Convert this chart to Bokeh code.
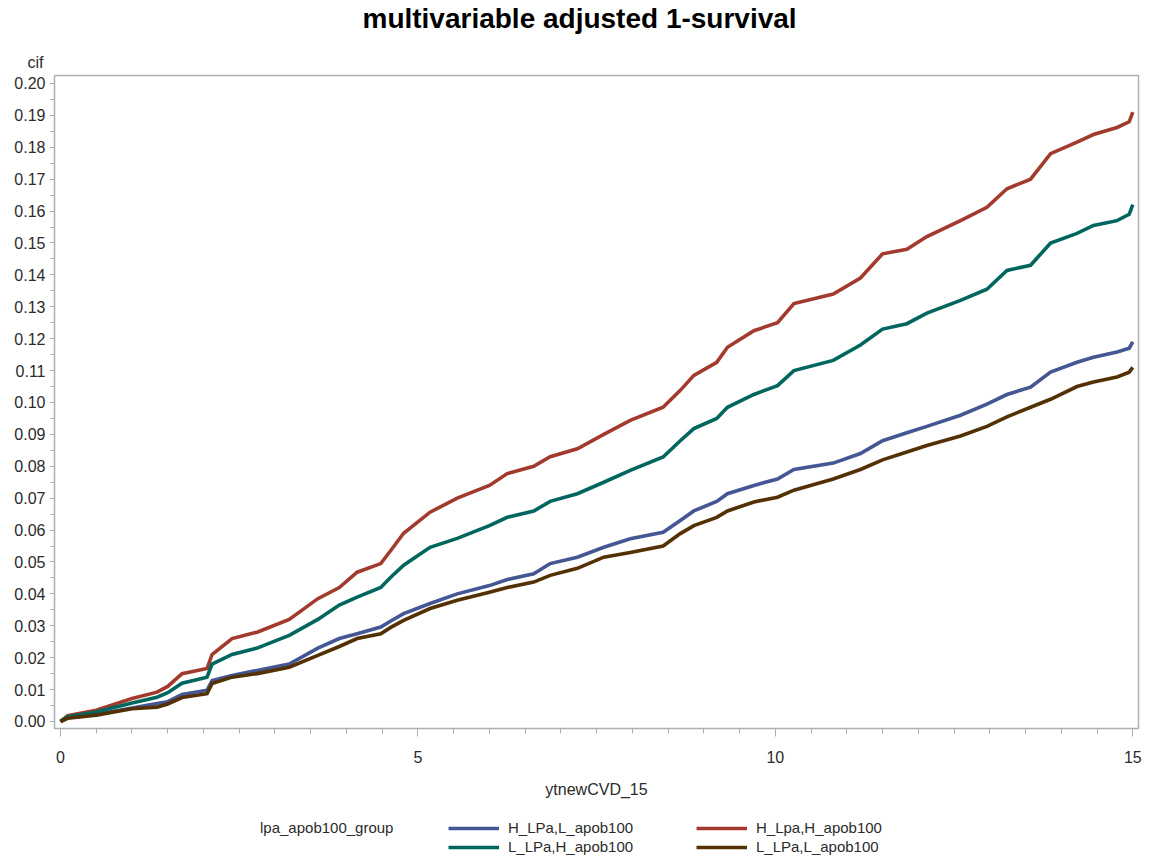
from bokeh.plotting import figure
from bokeh.layouts import column
from bokeh.models import FixedTicker, Legend, LegendItem, Title, Range1d, ColumnDataSource, CustomJSTickFormatter, Label
from bokeh.embed import file_html
from bokeh.resources import INLINE

# ---- data ----
time = [0.0, 0.1, 0.5, 1.0, 1.35, 1.5, 1.7, 2.05, 2.12, 2.4, 2.75, 3.2, 3.6, 3.9,
        4.15, 4.48, 4.62, 4.8, 5.17, 5.55, 6.0, 6.25, 6.62, 6.85, 7.23, 7.6, 7.97,
        8.43, 8.67, 8.86, 9.18, 9.33, 9.7, 10.03, 10.26, 10.81, 11.19, 11.5, 11.84,
        12.12, 12.59, 12.96, 13.24, 13.57, 13.85, 14.22, 14.45, 14.78, 14.95, 15.0]

h_lpa_h_apob = [0, 0.0018, 0.0035, 0.0072, 0.0092, 0.0110, 0.0150, 0.0166, 0.0210, 0.0260,
                0.0280, 0.0320, 0.0385, 0.0420, 0.0468, 0.0495, 0.0536, 0.0590, 0.0656, 0.0700,
                0.0740, 0.0777, 0.0800, 0.0830, 0.0855, 0.0900, 0.0944, 0.0985, 0.1038, 0.1085,
                0.1126, 0.1173, 0.1225, 0.1250, 0.1310, 0.1340, 0.1390, 0.1466, 0.1480, 0.1520,
                0.1570, 0.1612, 0.1670, 0.1700, 0.1780, 0.1816, 0.1840, 0.1862, 0.1880, 0.1910]

l_lpa_h_apob = [0, 0.0015, 0.0030, 0.0058, 0.0076, 0.0090, 0.0120, 0.0139, 0.0180, 0.0210,
                0.0230, 0.0270, 0.0320, 0.0365, 0.0390, 0.0420, 0.0452, 0.0490, 0.0546, 0.0574,
                0.0614, 0.0640, 0.0660, 0.0690, 0.0714, 0.0750, 0.0787, 0.0829, 0.0880, 0.0918,
                0.0950, 0.0985, 0.1025, 0.1053, 0.1100, 0.1132, 0.1180, 0.1230, 0.1247, 0.1280,
                0.1320, 0.1355, 0.1414, 0.1430, 0.1500, 0.1530, 0.1555, 0.1570, 0.1590, 0.1620]

h_lpa_l_apob = [0, 0.0012, 0.0022, 0.0042, 0.0056, 0.0062, 0.0085, 0.0098, 0.0128, 0.0144,
                0.0160, 0.0180, 0.0230, 0.0260, 0.0275, 0.0296, 0.0315, 0.0338, 0.0370, 0.0400,
                0.0426, 0.0445, 0.0463, 0.0495, 0.0515, 0.0546, 0.0573, 0.0593, 0.0630, 0.0660,
                0.0690, 0.0714, 0.0740, 0.0760, 0.0790, 0.0810, 0.0840, 0.0880, 0.0905, 0.0925,
                0.0960, 0.0995, 0.1025, 0.1048, 0.1095, 0.1126, 0.1142, 0.1158, 0.1170, 0.1190]

l_lpa_l_apob = [0, 0.0010, 0.0020, 0.0040, 0.0045, 0.0055, 0.0075, 0.0087, 0.0119, 0.0139,
                0.0150, 0.0170, 0.0207, 0.0235, 0.0260, 0.0275, 0.0295, 0.0317, 0.0354, 0.0380,
                0.0405, 0.0420, 0.0437, 0.0458, 0.0480, 0.0515, 0.0530, 0.0550, 0.0589, 0.0614,
                0.0640, 0.0660, 0.0688, 0.0703, 0.0725, 0.0760, 0.0790, 0.0820, 0.0845, 0.0865,
                0.0895, 0.0925, 0.0955, 0.0985, 0.1010, 0.1050, 0.1064, 0.1080, 0.1095, 0.1110]

series_names = ["H_LPa,L_apob100", "H_Lpa,H_apob100", "L_LPa,H_apob100", "L_LPa,L_apob100"]
series_colors = ["#445694", "#A23A2E", "#01665E", "#543005"]
series_values = [h_lpa_l_apob, h_lpa_h_apob, l_lpa_h_apob, l_lpa_l_apob]
legend_title = "lpa_apob100_group"
chart_title = "multivariable adjusted 1-survival"

x_ticks = [0, 5, 10, 15]
x_minor = [i * 0.5 for i in range(31)]
y_ticks = [round(i * 0.01, 2) for i in range(21)]
y_minor = [round(i * 0.005, 3) for i in range(41)]

FONT = "Liberation Sans"
GRAY = "#A9AFB3"
TXT = "#2b2b2b"
LINE_W = 3.6
W = 1152

# ---------------- title strip ----------------
tp = figure(width=W, height=44, output_backend="svg", toolbar_location=None,
            x_axis_type=None, y_axis_type=None, x_range=Range1d(0, W), y_range=Range1d(0, 44),
            min_border_left=0, min_border_right=0, min_border_top=0, min_border_bottom=0)
tp.outline_line_color = None
tp.xgrid.visible = False
tp.ygrid.visible = False
tp.add_layout(Label(x=558, y=26, text=chart_title, text_font=FONT, text_font_size="28px",
                    text_font_style="bold", text_color="#000000",
                    text_align="center", text_baseline="middle"))

# ---------------- main chart ----------------
p = figure(width=W, height=761, output_backend="svg", toolbar_location=None,
           x_range=Range1d(-0.084, 15.08), y_range=Range1d(-0.0022, 0.2025),
           min_border_left=54, min_border_right=14, min_border_top=31, min_border_bottom=77)

cif = Title(text="cif", align="left", offset=-27, text_font=FONT, text_font_size="16px",
            text_font_style="normal", text_color=TXT)
p.add_layout(cif, "above")

p.xgrid.visible = False
p.ygrid.visible = False
p.outline_line_color = GRAY
p.outline_line_width = 1.5
p.background_fill_color = "white"
p.border_fill_color = "white"

for name, color, vals in zip(series_names, series_colors, series_values):
    src = ColumnDataSource(dict(t=time, v=vals))
    p.line("t", "v", source=src, line_color=color, line_width=LINE_W, line_join="miter")

xa = p.xaxis[0]
xa.ticker = FixedTicker(ticks=x_ticks, minor_ticks=x_minor)
xa.axis_label = "ytnewCVD_15"
xa.axis_label_text_font = FONT
xa.axis_label_text_font_size = "16px"
xa.axis_label_text_font_style = "normal"
xa.axis_label_text_color = TXT
xa.axis_label_standoff = 15
xa.major_label_text_font = FONT
xa.major_label_text_font_size = "16px"
xa.major_label_text_color = TXT
xa.major_label_standoff = 14
xa.axis_line_color = GRAY
xa.major_tick_line_color = GRAY
xa.minor_tick_line_color = GRAY
xa.major_tick_out = 8
xa.major_tick_in = 0
xa.minor_tick_out = 5
xa.minor_tick_in = 0

ya = p.yaxis[0]
ya.ticker = FixedTicker(ticks=y_ticks, minor_ticks=y_minor)
ya.formatter = CustomJSTickFormatter(code="return tick.toFixed(2);")
ya.major_label_text_font = FONT
ya.major_label_text_font_size = "16px"
ya.major_label_text_color = TXT
ya.major_label_standoff = 4
ya.axis_line_color = GRAY
ya.major_tick_line_color = GRAY
ya.minor_tick_line_color = GRAY
ya.major_tick_out = 5
ya.major_tick_in = 0
ya.minor_tick_out = 4
ya.minor_tick_in = 0

# ---------------- legend strip ----------------
lg = figure(width=W, height=58, output_backend="svg", toolbar_location=None,
            x_axis_type=None, y_axis_type=None, x_range=Range1d(0, 1), y_range=Range1d(0, 1),
            min_border_left=0, min_border_right=0, min_border_top=0, min_border_bottom=0)
lg.outline_line_color = None
lg.xgrid.visible = False
lg.ygrid.visible = False

# key renderers sit outside the strip's ranges, so only their legend swatches show
blank = lg.line(x=[5, 6], y=[5, 5], line_alpha=0)
keys = {}
for name, color in zip(series_names, series_colors):
    keys[name] = lg.line(x=[5, 6], y=[5, 5], line_color=color, line_width=LINE_W)

items = [
    LegendItem(label=legend_title, renderers=[blank]),
    LegendItem(label=series_names[0], renderers=[keys[series_names[0]]]),
    LegendItem(label=series_names[1], renderers=[keys[series_names[1]]]),
    LegendItem(label=" ", renderers=[blank]),
    LegendItem(label=series_names[2], renderers=[keys[series_names[2]]]),
    LegendItem(label=series_names[3], renderers=[keys[series_names[3]]]),
]
legend = Legend(items=items, orientation="horizontal", ncols=3, location=(146, 8),
                label_text_font=FONT, label_text_font_size="15px", label_text_color=TXT,
                glyph_width=51, glyph_height=14, label_height=14, label_width=186,
                label_standoff=9, spacing=2, padding=0, margin=0,
                border_line_color=None, background_fill_alpha=0)
lg.add_layout(legend, "center")

layout = column(tp, p, lg, spacing=0)
open("out.html", "w").write(file_html(layout, INLINE))
